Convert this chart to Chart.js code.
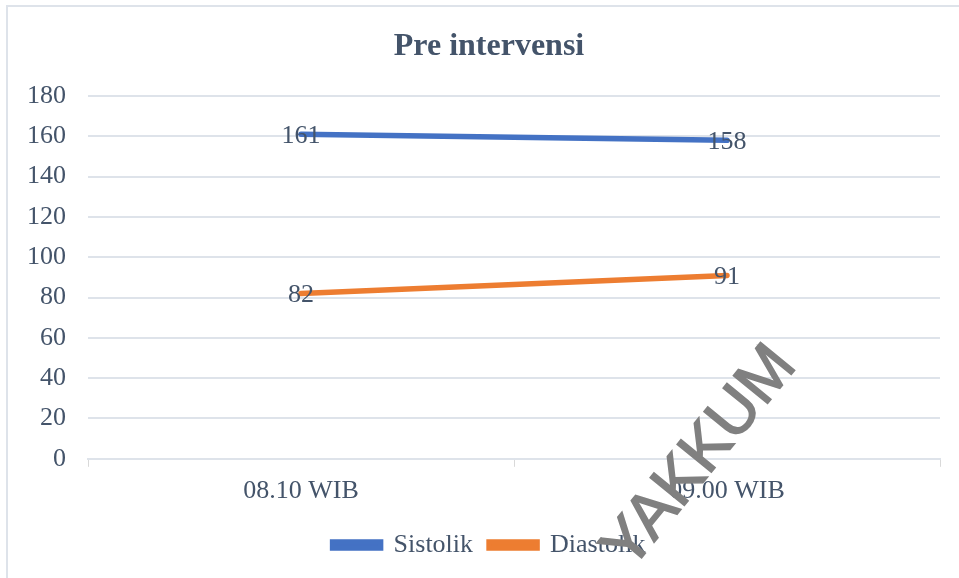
<!DOCTYPE html>
<html>
<head>
<meta charset="utf-8">
<script src="https://cdn.jsdelivr.net/npm/chart.js@4"></script>
<style>
  html, body { margin: 0; padding: 0; background: #fff; overflow: hidden; }
  #wrap { position: relative; width: 959px; height: 578px; }
  #frame { position: absolute; left: 6px; top: 5px; width: 960px; height: 580px; border: 2px solid #DEE3EA; box-sizing: border-box; }
  canvas { position: absolute; left: 0; top: 0; }
</style>
</head>
<body>
<div id="wrap">
  <div id="frame"></div>
  <canvas id="grafico" width="959" height="578"></canvas>
</div>
<script>
// Dados do gráfico
const kategori = ["08.10 WIB", "09.00 WIB"];
const sistolik = [161, 158];
const diastolik = [82, 91];
const yTicks = [0, 20, 40, 60, 80, 100, 120, 140, 160, 180];
const judul = "Pre intervensi";

const warnaTeks = "#44546A";
const fonte = "'Liberation Serif', 'Times New Roman', serif";

// Título desenhado à mão (centralizado na moldura original)
const judulPlugin = {
  id: "judul",
  afterDraw(chart) {
    const ctx = chart.ctx;
    ctx.save();
    ctx.font = "bold 32px " + fonte;
    ctx.fillStyle = warnaTeks;
    ctx.textAlign = "center";
    ctx.textBaseline = "middle";
    ctx.fillText(judul, 489, 47);
    ctx.restore();
  },
};

// Rótulos de valor em cima dos pontos
const labelPlugin = {
  id: "labelNilai",
  afterDatasetsDraw(chart) {
    const ctx = chart.ctx;
    ctx.save();
    ctx.font = "26px " + fonte;
    ctx.fillStyle = warnaTeks;
    ctx.textAlign = "center";
    ctx.textBaseline = "middle";
    chart.data.datasets.forEach((ds, i) => {
      chart.getDatasetMeta(i).data.forEach((pt, j) => {
        ctx.fillText(ds.data[j], pt.x, pt.y + 2);
      });
    });
    ctx.restore();
  },
};

// Marca d'água
const watermark = {
  id: "watermark",
  afterDraw(chart) {
    const ctx = chart.ctx;
    ctx.save();
    ctx.translate(714, 469);
    ctx.rotate(-50.8 * Math.PI / 180);
    ctx.font = "64px 'Liberation Sans', Arial, sans-serif";
    ctx.fillStyle = "#808080";
    ctx.strokeStyle = "#808080";
    ctx.lineWidth = 1.6;
    ctx.textAlign = "center";
    ctx.textBaseline = "alphabetic";
    ctx.fillText("YAKKUM", 0, 0);
    ctx.strokeText("YAKKUM", 0, 0);
    ctx.restore();
  },
};

const config = {
  type: "line",
  data: {
    labels: kategori,
    datasets: [
      {
        label: "Sistolik",
        data: sistolik,
        borderColor: "#4472C4",
        backgroundColor: "#4472C4",
        borderWidth: 5.5,
        pointRadius: 0,
        borderCapStyle: "round",
      },
      {
        label: "Diastolik",
        data: diastolik,
        borderColor: "#ED7D31",
        backgroundColor: "#ED7D31",
        borderWidth: 5.5,
        pointRadius: 0,
        borderCapStyle: "round",
      },
    ],
  },
  options: {
    responsive: false,
    animation: false,
    layout: { padding: { left: 19, right: 0, top: 96, bottom: 10 } },
    plugins: {
      title: { display: false },
      legend: {
        position: "bottom",
        labels: {
          color: warnaTeks,
          font: { family: fonte, size: 26 },
          boxWidth: 48,
          boxHeight: 6,
          padding: 16,
        },
      },
      tooltip: { enabled: false },
    },
    scales: {
      x: {
        offset: true,
        grid: {
          offset: true,
          drawOnChartArea: false,
          color: "#D9D9D9",
          tickLength: 8,
        },
        border: { color: "#DEE3EA", width: 2 },
        ticks: {
          color: warnaTeks,
          font: { family: fonte, size: 26 },
          padding: 9,
        },
      },
      y: {
        min: 0,
        max: 180,
        afterBuildTicks(scale) {
          scale.ticks = yTicks.map((v) => ({ value: v }));
        },
        afterFit(scale) {
          scale.width = 69;
        },
        grid: { color: "#DEE3EA", lineWidth: 2, drawTicks: false },
        border: { display: false },
        ticks: {
          color: warnaTeks,
          font: { family: fonte, size: 26 },
          padding: 22,
        },
      },
      // eixo vazio só para reservar espaço à direita
      kanan: {
        position: "right",
        grid: { display: false },
        border: { display: false },
        ticks: { display: false },
        afterFit(scale) {
          scale.width = 19;
        },
      },
    },
  },
  plugins: [labelPlugin, watermark, judulPlugin],
};

const ctx = document.getElementById("grafico").getContext("2d");
const grafico = new Chart(ctx, config);
</script>
</body>
</html>
